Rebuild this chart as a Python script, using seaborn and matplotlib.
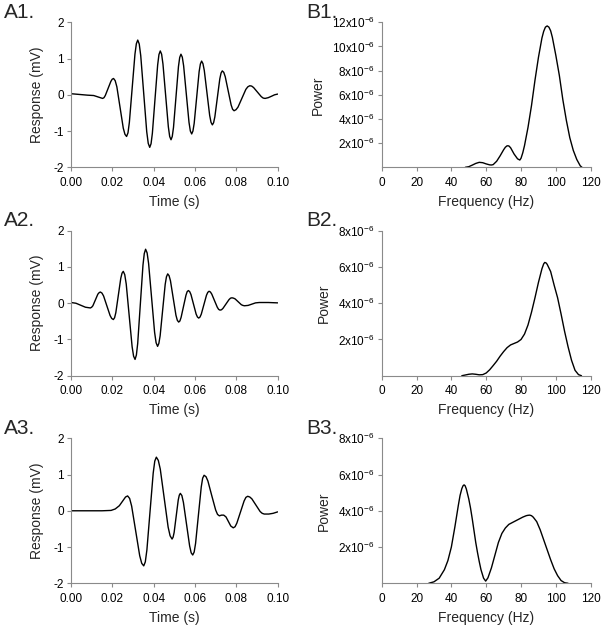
import pandas as pd
import matplotlib
matplotlib.use('Agg')
import matplotlib.pyplot as plt
import seaborn as sns

# ---- data ----
# A panels: time (s) vs response (mV)
a1_time = [0.0, 0.004, 0.008, 0.011, 0.0153,
           0.01596, 0.0166, 0.01795, 0.0193, 0.01994, 0.0206,
           0.02139, 0.0222, 0.02375, 0.0253, 0.02611, 0.0269,
           0.02758, 0.02825, 0.0296, 0.03095, 0.03163, 0.0323,
           0.03303, 0.03375, 0.0352, 0.03665, 0.03738, 0.0381,
           0.03874, 0.03938, 0.04065, 0.04193, 0.04256, 0.0432,
           0.04385, 0.0445, 0.0458, 0.0471, 0.04775, 0.0484,
           0.049, 0.0496, 0.0508, 0.052, 0.0526, 0.0532,
           0.05385, 0.0545, 0.0558, 0.0571, 0.05775, 0.0584,
           0.059, 0.0596, 0.0608, 0.062, 0.0626, 0.0632,
           0.06385, 0.0645, 0.0658, 0.0671, 0.06775, 0.0684,
           0.069, 0.0696, 0.0708, 0.072, 0.0726, 0.0732,
           0.07391, 0.07463, 0.07605, 0.07748, 0.07819, 0.0789,
           0.07985, 0.0808, 0.0827, 0.0846, 0.08555, 0.0865,
           0.08743, 0.08835, 0.0902, 0.09205, 0.09298, 0.0939,
           0.0954, 0.097, 0.0985, 0.1]
a1_resp = [0.03, 0.01, -0.01, -0.02, -0.10,
           -0.08, -0.02, 0.175, 0.37, 0.43, 0.45,
           0.39, 0.22, -0.35, -0.92, -1.09, -1.15,
           -1.05, -0.76, 0.18, 1.12, 1.41, 1.51,
           1.40, 1.08, 0.03, -1.02, -1.34, -1.45,
           -1.35, -1.06, -0.12, 0.82, 1.11, 1.21,
           1.12, 0.85, -0.015, -0.88, -1.15, -1.24,
           -1.15, -0.90, -0.06, 0.78, 1.03, 1.12,
           1.04, 0.80, 0.02, -0.76, -1.0, -1.08,
           -1.0, -0.79, -0.075, 0.64, 0.85, 0.93,
           0.86, 0.67, 0.05, -0.57, -0.76, -0.83,
           -0.77, -0.61, -0.085, 0.44, 0.60, 0.66,
           0.62, 0.50, 0.11, -0.28, -0.40, -0.44,
           -0.41, -0.34, -0.095, 0.15, 0.22, 0.25,
           0.24, 0.20, 0.075, -0.05, -0.09, -0.10,
           -0.08, -0.04, 0.0, 0.02]

a2_time = [0.0, 0.0024, 0.0047, 0.007, 0.0094,
           0.01, 0.0106, 0.0118, 0.013, 0.0136, 0.0142,
           0.01499, 0.01578, 0.01735, 0.01893, 0.01971, 0.0205,
           0.0211, 0.0217, 0.0229, 0.0241, 0.0247, 0.0253,
           0.02601, 0.02673, 0.02815, 0.02958, 0.03029, 0.031,
           0.03164, 0.03228, 0.03355, 0.03483, 0.03546, 0.0361,
           0.03683, 0.03755, 0.039, 0.04045, 0.04118, 0.0419,
           0.04251, 0.04313, 0.04435, 0.04558, 0.04619, 0.0468,
           0.04746, 0.04813, 0.04945, 0.05078, 0.05144, 0.0521,
           0.05269, 0.05328, 0.05445, 0.05563, 0.05621, 0.0568,
           0.05743, 0.05805, 0.0593, 0.06055, 0.06118, 0.0618,
           0.06243, 0.06305, 0.0643, 0.06555, 0.06618, 0.0668,
           0.06746, 0.06813, 0.06945, 0.07078, 0.07144, 0.0721,
           0.07283, 0.07355, 0.075, 0.07645, 0.07718, 0.0779,
           0.07865, 0.0794, 0.0809, 0.0824, 0.08315, 0.0839,
           0.0857, 0.0875, 0.0893, 0.0911,
           0.0955, 0.1]
a2_resp = [0.02, 0.0, -0.055, -0.11, -0.13,
           -0.11, -0.07, 0.09, 0.25, 0.29, 0.31,
           0.28, 0.20, -0.07, -0.34, -0.42, -0.45,
           -0.40, -0.26, 0.215, 0.69, 0.83, 0.88,
           0.79, 0.53, -0.335, -1.20, -1.46, -1.55,
           -1.43, -1.11, -0.03, 1.05, 1.37, 1.49,
           1.39, 1.10, 0.15, -0.80, -1.09, -1.19,
           -1.11, -0.90, -0.19, 0.52, 0.73, 0.81,
           0.76, 0.62, 0.145, -0.33, -0.47, -0.52,
           -0.49, -0.39, -0.085, 0.22, 0.32, 0.35,
           0.32, 0.24, -0.03, -0.30, -0.38, -0.41,
           -0.38, -0.30, -0.04, 0.22, 0.30, 0.33,
           0.31, 0.25, 0.07, -0.11, -0.17, -0.19,
           -0.18, -0.14, -0.02, 0.10, 0.14, 0.15,
           0.14, 0.12, 0.04, -0.04, -0.06, -0.07,
           -0.06, -0.025, 0.01, 0.02,
           0.02, 0.01]

a3_time = [0.0, 0.005, 0.010, 0.015, 0.0194,
           0.0214, 0.0234, 0.0254, 0.0264, 0.0274,
           0.02838, 0.02935, 0.0313, 0.03325, 0.03423, 0.0352,
           0.03596, 0.03673, 0.03825, 0.03978, 0.04054, 0.0413,
           0.04225, 0.0432, 0.0451, 0.047, 0.04795, 0.0489,
           0.0494, 0.0499, 0.0509, 0.0519, 0.0524, 0.0529,
           0.05365, 0.0544, 0.0559, 0.0574, 0.05815, 0.0589,
           0.05959, 0.06028, 0.06165, 0.06303, 0.06371, 0.0644,
           0.06533, 0.06625, 0.0681, 0.070, 0.0709, 0.0718,
           0.0728, 0.0739, 0.075, 0.0762, 0.0773, 0.0785,
           0.07938, 0.08025, 0.082, 0.08375, 0.08463, 0.0855,
           0.0865, 0.0875, 0.0895, 0.0915, 0.0925, 0.0935,
           0.0957, 0.0978, 0.1]
a3_resp = [0.0, 0.0, 0.0, 0.0, 0.01,
           0.05, 0.14, 0.30, 0.38, 0.41,
           0.34, 0.13, -0.555, -1.24, -1.45, -1.52,
           -1.41, -1.08, -0.02, 1.04, 1.37, 1.48,
           1.39, 1.15, 0.35, -0.45, -0.69, -0.78,
           -0.73, -0.60, -0.15, 0.30, 0.43, 0.48,
           0.42, 0.23, -0.37, -0.97, -1.16, -1.22,
           -1.14, -0.90, -0.12, 0.66, 0.90, 0.98,
           0.94, 0.82, 0.42, 0.02, -0.10, -0.14,
           -0.12, -0.12, -0.17, -0.30, -0.42, -0.47,
           -0.44, -0.34, -0.035, 0.27, 0.37, 0.40,
           0.38, 0.33, 0.155, -0.02, -0.07, -0.09,
           -0.09, -0.07, -0.03]

# B panels: frequency (Hz) vs power (in units of 1e-6)
b1_freq = [48, 50, 52, 54, 56, 58, 60, 62, 63, 64, 66, 68, 70, 71, 72, 73, 74, 76, 78, 79.3, 80,
           81, 82, 84, 86, 88, 90, 92, 93, 94, 95, 96, 97, 98, 100, 102, 104, 106, 108, 110, 112, 114, 115]
b1_power = [0.0, 0.05, 0.18, 0.32, 0.41, 0.38, 0.28, 0.20, 0.19, 0.22, 0.50, 0.95, 1.45, 1.66, 1.78, 1.77, 1.62, 1.10, 0.70, 0.60, 0.75,
            1.2, 1.8, 3.3, 5.1, 7.2, 9.1, 10.7, 11.25, 11.6, 11.7, 11.6, 11.3, 10.75, 9.25, 7.6, 5.6, 3.9, 2.45, 1.4, 0.65, 0.12, 0.0]

b2_freq = [46, 48, 50, 52, 54, 56, 58, 60, 62, 64, 66, 68, 70, 72, 74, 76, 78, 80, 82, 84, 86, 88,
           90, 92, 93, 93.6, 94.3, 95, 97, 99, 101, 103, 105, 107, 109, 111, 113, 114.7]
b2_power = [0.0, 0.04, 0.08, 0.10, 0.08, 0.05, 0.06, 0.15, 0.33, 0.56, 0.80, 1.08, 1.33, 1.55, 1.70, 1.78, 1.86, 2.00, 2.30, 2.80, 3.50, 4.30,
            5.15, 5.90, 6.17, 6.25, 6.23, 6.15, 5.75, 5.0, 4.3, 3.4, 2.45, 1.6, 0.85, 0.30, 0.06, 0.0]

b3_freq = [27, 30, 33, 36, 38, 40, 42, 44, 45, 46, 46.7, 47.3, 47.9, 48.6, 50, 51, 52, 53, 54, 55, 56, 57, 58.5, 59.7,
           61, 63, 65, 67, 69, 71, 73, 75, 77, 79, 81, 83, 84, 85, 86, 87, 89, 91, 93, 95, 97, 99, 101, 103, 105, 107]
b3_power = [0.0, 0.08, 0.28, 0.75, 1.25, 2.0, 3.1, 4.3, 4.85, 5.22, 5.38, 5.43, 5.38, 5.2, 4.65, 4.15, 3.55, 2.9, 2.25, 1.7, 1.2, 0.75, 0.28, 0.12,
            0.30, 0.85, 1.55, 2.25, 2.75, 3.05, 3.25, 3.35, 3.45, 3.55, 3.65, 3.73, 3.75, 3.76, 3.73, 3.65, 3.40, 2.95, 2.40, 1.85, 1.30, 0.80, 0.42, 0.15, 0.03, 0.0]

time_ticks = [0.0, 0.02, 0.04, 0.06, 0.08, 0.10]
time_labels = ['0.00', '0.02', '0.04', '0.06', '0.08', '0.10']
resp_ticks = [-2, -1, 0, 1, 2]
freq_ticks = [0, 20, 40, 60, 80, 100, 120]
power_ticks_b1 = [2, 4, 6, 8, 10, 12]
power_ticks_b23 = [2, 4, 6, 8]

# ---- style ----
sns.set_theme(style='white')
plt.rcParams['font.family'] = ['Liberation Sans', 'DejaVu Sans']
plt.rcParams['mathtext.fontset'] = 'custom'
plt.rcParams['mathtext.rm'] = 'Liberation Sans'
plt.rcParams['mathtext.it'] = 'Liberation Sans:italic'

axis_grey = '#8a8a8a'

fig = plt.figure(figsize=(6.03, 6.32), dpi=100)

rows_bottom = [0.7353, 0.4055, 0.0771]
row_height = 0.2294
a_left, a_width = 0.1177, 0.3428
b_left, b_width = 0.633, 0.3466


def style_axis(ax):
    sns.despine(ax=ax)
    for side in ['left', 'bottom']:
        ax.spines[side].set_color(axis_grey)
        ax.spines[side].set_linewidth(0.8)
    ax.tick_params(axis='both', which='major', direction='out', length=3, width=0.8,
                   color=axis_grey, labelsize=8.5, labelcolor='black', pad=2,
                   bottom=True, left=True)
    ax.tick_params(axis='x', pad=4)


a_panels = [(a1_time, a1_resp, 'A1.'), (a2_time, a2_resp, 'A2.'), (a3_time, a3_resp, 'A3.')]
b_panels = [(b1_freq, b1_power, 'B1.', 12, power_ticks_b1),
            (b2_freq, b2_power, 'B2.', 8, power_ticks_b23),
            (b3_freq, b3_power, 'B3.', 8, power_ticks_b23)]

for i, (t, r, label) in enumerate(a_panels):
    ax = fig.add_axes([a_left, rows_bottom[i], a_width, row_height])
    df = pd.DataFrame({'Time (s)': t, 'Response (mV)': r})
    sns.lineplot(data=df, x='Time (s)', y='Response (mV)', ax=ax, color='black',
                 linewidth=1.0, estimator=None, sort=False)
    ax.set_xlim(0, 0.1)
    ax.set_ylim(-2, 2)
    ax.set_xticks(time_ticks)
    ax.set_xticklabels(time_labels)
    ax.set_yticks(resp_ticks)
    ax.set_yticklabels([str(v) for v in resp_ticks])
    style_axis(ax)
    ax.set_xlabel('Time (s)', fontsize=10, labelpad=4)
    ax.set_ylabel('Response (mV)', fontsize=10, labelpad=7)
    fig.text(0.006, rows_bottom[i] + row_height + 0.007, label, fontsize=15, va='baseline', ha='left')

for i, (f, p, label, ymax, yt) in enumerate(b_panels):
    ax = fig.add_axes([b_left, rows_bottom[i], b_width, row_height])
    df = pd.DataFrame({'Frequency (Hz)': f, 'Power': p})
    sns.lineplot(data=df, x='Frequency (Hz)', y='Power', ax=ax, color='black',
                 linewidth=1.0, estimator=None, sort=False)
    ax.set_xlim(0, 120)
    ax.set_ylim(0, ymax)
    ax.set_xticks(freq_ticks)
    ax.set_xticklabels([str(v) for v in freq_ticks])
    ax.set_yticks(yt)
    ax.set_yticklabels([r'$\mathregular{%dx10^{-6}}$' % v for v in yt])
    style_axis(ax)
    ax.set_xlabel('Frequency (Hz)', fontsize=10, labelpad=4)
    ax.set_ylabel('Power', fontsize=10, labelpad=5)
    fig.text(0.508, rows_bottom[i] + row_height + 0.007, label, fontsize=15, va='baseline', ha='left')

fig.savefig('out.png', dpi=100, facecolor='white')
